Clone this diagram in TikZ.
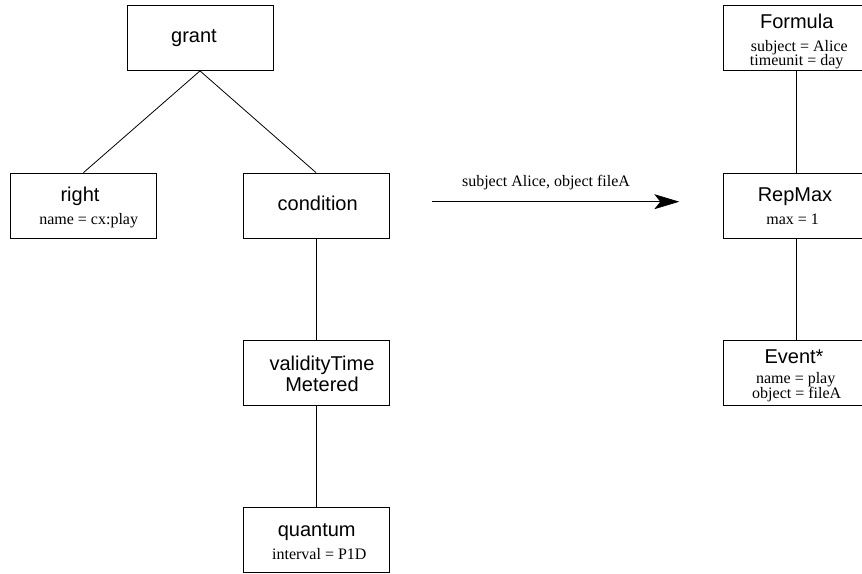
\documentclass[tikz,border=0pt]{standalone}
\usepackage{fontspec}
\usetikzlibrary{arrows.meta}
\newfontfamily\headfont{Liberation Sans}
\newfontfamily\attrfamily{Liberation Serif}
\tikzset{
  box/.style={draw, line width=0.8pt, minimum width=146pt, minimum height=65pt, inner sep=0pt},
  ttl/.style={anchor=base, inner sep=0pt, font=\headfont\fontsize{20}{22}\selectfont},
  attr/.style={anchor=base, inner sep=0pt, font=\attrfamily\fontsize{16}{16}\selectfont},
  link/.style={line width=0.8pt},
  flow/.style={line width=0.8pt, -{Stealth[length=25pt, width=15pt, inset=6pt]}}
}
\begin{document}
\begin{tikzpicture}[x=1pt, y=-1pt]
  \useasboundingbox (0,0) rectangle (862,573);

  % license tree
  \node[box] (grant) at (200,38) {};
  \node[box] (right) at (83.5,205.5) {};
  \node[box] (condition) at (316,205.5) {};
  \node[box] (validity) at (316,373.2) {};
  \node[box] (quantum) at (316,540) {};

  \node[ttl] (tgrant) at (194,42) {grant};
  \node[ttl] (tright) at (80,201.7) {right};
  \node[attr] (aright) at (88.7,224) {name = cx:play};
  \node[ttl] (tcond) at (317.7,210) {condition};
  \node[ttl] (tval1) at (322,370.7) {validityTime};
  \node[ttl] (tval2) at (322,391) {Metered};
  \node[ttl] (tquant) at (316.7,536.7) {quantum};
  \node[attr] (aquant) at (319.3,559.3) {interval = P1D};

  \draw[link] (grant.south) -- (right.north);
  \draw[link] (grant.south) -- (condition.north);
  \draw[link] (condition.south) -- (validity.north);
  \draw[link] (validity.south) -- (quantum.north);

  % translation arrow
  \coordinate (from) at (432,201.7);
  \coordinate (to) at (679.3,201.7);
  \draw[flow] (from) -- (to);
  \node[attr] (alabel) at (546,186) {subject Alice, object fileA};

  % formula tree
  \node[box] (formula) at (796.5,38) {};
  \node[box] (repmax) at (796.5,205.5) {};
  \node[box] (event) at (796.5,373.2) {};

  \node[ttl] (tform) at (796.7,28) {Formula};
  \node[attr] (aform1) at (799.3,51) {subject = Alice};
  \node[attr] (aform2) at (796.7,65.5) {timeunit = day};
  \node[ttl] (trep) at (795,201.7) {RepMax};
  \node[attr] (arep) at (792.7,224) {max = 1};
  \node[ttl] (tevent) at (794,363) {Event*};
  \node[attr] (aevent1) at (795.7,383.5) {name = play};
  \node[attr] (aevent2) at (796.7,398.5) {object = fileA};

  \draw[link] (formula.south) -- (repmax.north);
  \draw[link] (repmax.south) -- (event.north);
\end{tikzpicture}
\end{document}
